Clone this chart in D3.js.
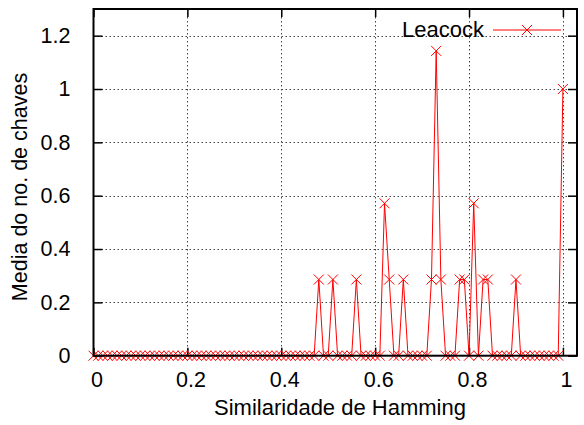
<!DOCTYPE html>
<html>
<head>
<meta charset="utf-8">
<script src="https://cdn.jsdelivr.net/npm/d3@7"></script>
<style>
  html, body { margin: 0; padding: 0; background: #fff; }
  svg { display: block; font-family: "Liberation Sans", Arial, sans-serif; }
</style>
</head>
<body>
<svg id="chart" width="584" height="425"></svg>
<script>
// Hamming similarity sampled on a 0.01 grid
const similarity = [
  0.00, 0.01, 0.02, 0.03, 0.04, 0.05, 0.06, 0.07, 0.08, 0.09,
  0.10, 0.11, 0.12, 0.13, 0.14, 0.15, 0.16, 0.17, 0.18, 0.19,
  0.20, 0.21, 0.22, 0.23, 0.24, 0.25, 0.26, 0.27, 0.28, 0.29,
  0.30, 0.31, 0.32, 0.33, 0.34, 0.35, 0.36, 0.37, 0.38, 0.39,
  0.40, 0.41, 0.42, 0.43, 0.44, 0.45, 0.46, 0.47, 0.48, 0.49,
  0.50, 0.51, 0.52, 0.53, 0.54, 0.55, 0.56, 0.57, 0.58, 0.59,
  0.60, 0.61, 0.62, 0.63, 0.64, 0.65, 0.66, 0.67, 0.68, 0.69,
  0.70, 0.71, 0.72, 0.73, 0.74, 0.75, 0.76, 0.77, 0.78, 0.79,
  0.80, 0.81, 0.82, 0.83, 0.84, 0.85, 0.86, 0.87, 0.88, 0.89,
  0.90, 0.91, 0.92, 0.93, 0.94, 0.95, 0.96, 0.97, 0.98, 0.99,
  1.00
];

// Mean number of keys (Leacock) for each similarity value
const leacock = [
  0, 0, 0, 0, 0, 0, 0, 0, 0, 0,
  0, 0, 0, 0, 0, 0, 0, 0, 0, 0,
  0, 0, 0, 0, 0, 0, 0, 0, 0, 0,
  0, 0, 0, 0, 0, 0, 0, 0, 0, 0,
  0, 0, 0, 0, 0, 0, 0, 0, 0.2857, 0,
  0, 0.2857, 0, 0, 0, 0, 0.2857, 0, 0, 0,
  0, 0, 0.5714, 0.2857, 0, 0, 0.2857, 0, 0, 0,
  0, 0, 0.2857, 1.1429, 0.2857, 0, 0, 0, 0.2857, 0.2857,
  0, 0.5714, 0, 0.2857, 0.2857, 0, 0, 0, 0, 0,
  0.2857, 0, 0, 0, 0, 0, 0, 0, 0, 0,
  1.0
];

const xTicks = [0, 0.2, 0.4, 0.6, 0.8, 1];
const xTickLabels = ["0", "0.2", "0.4", "0.6", "0.8", "1"];
const yTicks = [0, 0.2, 0.4, 0.6, 0.8, 1, 1.2];
const yTickLabels = ["0", "0.2", "0.4", "0.6", "0.8", "1", "1.2"];

const seriesName = "Leacock";
const xTitle = "Similaridade de Hamming";
const yTitle = "Media do no. de chaves";

const svg = d3.select("#chart");
const plotL = 93.5, plotR = 577, plotT = 9, plotB = 355.7;
const fontSize = 21.5;

const x = d3.scaleLinear().domain([0, 1.03]).range([plotL, plotR]);
const y = d3.scaleLinear().domain([0, 1.3]).range([plotB, plotT]);

// dotted grid
const grid = svg.append("g").attr("stroke", "#444").attr("stroke-width", 1)
  .attr("stroke-dasharray", "1.5,2.5").attr("fill", "none");
grid.selectAll("line.gy").data(yTicks.filter(d => d > 0)).join("line")
  .attr("x1", plotL).attr("x2", plotR)
  .attr("y1", d => Math.round(y(d)) + 0.5).attr("y2", d => Math.round(y(d)) + 0.5);
grid.selectAll("line.gx").data(xTicks.filter(d => d > 0)).join("line")
  .attr("y1", plotT).attr("y2", plotB)
  .attr("x1", d => Math.round(x(d)) + 0.5).attr("x2", d => Math.round(x(d)) + 0.5);

// axes (ticks drawn inward, mirrored on the opposite border)
const xAxisB = d3.axisBottom(x).tickValues(xTicks).tickSize(-8).tickFormat((d, i) => xTickLabels[i]).tickPadding(16);
const xAxisT = d3.axisTop(x).tickValues(xTicks).tickSize(-8).tickFormat("");
const yAxisL = d3.axisLeft(y).tickValues(yTicks).tickSize(-9).tickFormat((d, i) => yTickLabels[i]).tickPadding(23);
const yAxisR = d3.axisRight(y).tickValues(yTicks).tickSize(-9).tickFormat("");

function styleAxis(g) {
  g.select(".domain").remove();
  g.selectAll(".tick line").attr("stroke", "#000").attr("stroke-width", 1.5);
  g.selectAll(".tick text").attr("font-size", fontSize).attr("fill", "#000")
    .attr("font-family", "Liberation Sans, Arial, sans-serif");
}
svg.append("g").attr("transform", `translate(0,${plotB})`).call(xAxisB).call(styleAxis)
  .selectAll(".tick text").attr("dx", 3);
svg.append("g").attr("transform", `translate(0,${plotT})`).call(xAxisT).call(styleAxis);
svg.append("g").attr("transform", `translate(${plotL},0)`).call(yAxisL).call(styleAxis);
svg.append("g").attr("transform", `translate(${plotR},0)`).call(yAxisR).call(styleAxis);

// series
const pts = similarity.map((s, i) => [s, leacock[i]]);
const line = d3.line().x(d => x(d[0])).y(d => y(d[1]));
const series = svg.append("g");
series.append("path").datum(pts).attr("d", line)
  .attr("fill", "none").attr("stroke", "#ff0000").attr("stroke-width", 1);

const m = 5;
function cross(sel) {
  sel.append("path")
    .attr("d", `M${-m},${-m}L${m},${m}M${-m},${m}L${m},${-m}`)
    .attr("stroke", "#ff0000").attr("stroke-width", 1).attr("fill", "none");
}
series.selectAll("g.pt").data(pts).join("g")
  .attr("transform", d => `translate(${x(d[0])},${y(d[1])})`).call(cross);

// frame
svg.append("rect").attr("x", plotL).attr("y", plotT).attr("width", plotR - plotL).attr("height", plotB - plotT)
  .attr("fill", "none").attr("stroke", "#000").attr("stroke-width", 2);

// legend
const leg = svg.append("g");
leg.append("text").attr("x", 484).attr("y", 37).attr("text-anchor", "end")
  .attr("font-size", 22).text(seriesName);
leg.append("line").attr("x1", 493).attr("x2", 561).attr("y1", 30).attr("y2", 30)
  .attr("stroke", "#ff0000").attr("stroke-width", 1);
leg.append("g").attr("transform", "translate(527,30)").call(cross);

// axis titles
svg.append("text").attr("x", 340).attr("y", 415).attr("text-anchor", "middle")
  .attr("font-size", 22).text(xTitle);
svg.append("text").attr("transform", "translate(27,187) rotate(-90)").attr("text-anchor", "middle")
  .attr("font-size", 21.5).text(yTitle);
</script>
</body>
</html>
